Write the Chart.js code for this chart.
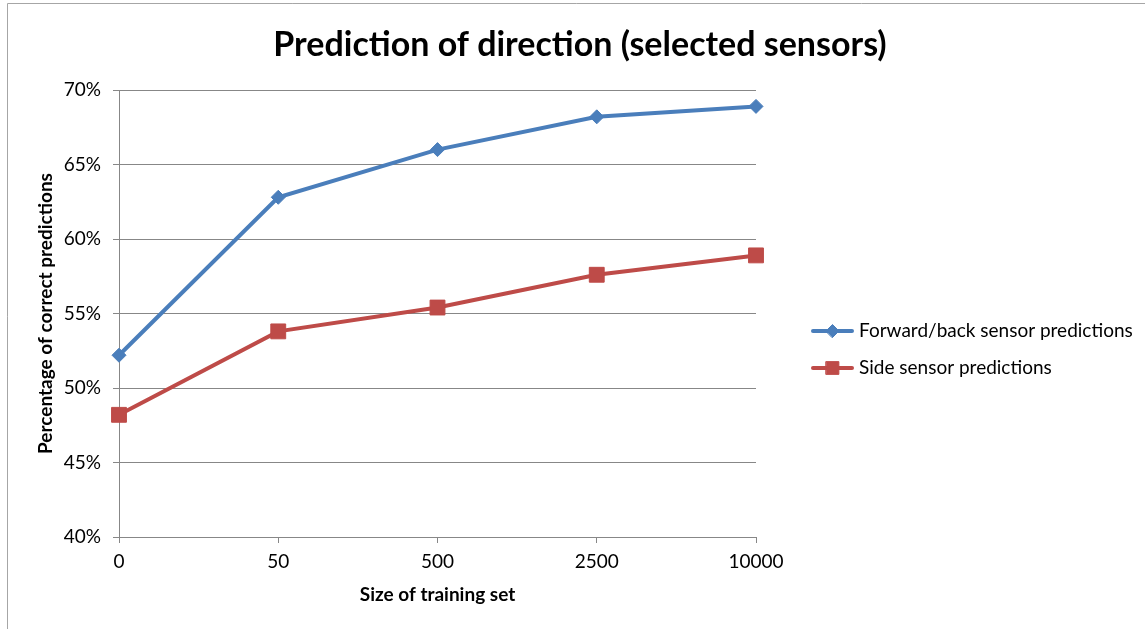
<!DOCTYPE html>
<html>
<head>
<meta charset="utf-8">
<script src="https://cdn.jsdelivr.net/npm/chart.js@4.4.1/dist/chart.umd.min.js"></script>
<style>
  html, body { margin: 0; padding: 0; background: #ffffff; }
  #wrap { width: 1145px; height: 629px; position: relative; }
</style>
</head>
<body>
<div id="wrap"><canvas id="c" width="1145" height="629"></canvas></div>
<script>
// Training-set sizes and the share of correct direction predictions (%)
const trainingSizes = ['0', '50', '500', '2500', '10000'];
const forwardBack = [52.2, 62.8, 66.0, 68.2, 68.9];
const sideSensor = [48.2, 53.8, 55.4, 57.6, 58.9];
const yMin = 40, yMax = 70, yStep = 5;

const FONT = 'Lato, "Open Sans", sans-serif';
const GRID = '#878787';
const BLUE = '#4a7ebb';
const RED = '#be4b48';

// Outer frame around the whole chart
const framePlugin = {
  id: 'frame',
  beforeDraw(chart) {
    const ctx = chart.ctx;
    ctx.save();
    ctx.fillStyle = '#ffffff';
    ctx.fillRect(0, 0, chart.width, chart.height);
    ctx.strokeStyle = '#a6a6a6';
    ctx.lineWidth = 1;
    ctx.beginPath();
    ctx.moveTo(7.5, chart.height + 2);
    ctx.lineTo(7.5, 3.5);
    ctx.lineTo(chart.width + 2, 3.5);
    ctx.stroke();
    ctx.restore();
  }
};

// Legend with a short line segment and the series marker
const lineLegend = {
  id: 'lineLegend',
  afterDraw(chart) {
    const ctx = chart.ctx;
    const x0 = 813, len = 39, rows = [331, 368];
    ctx.save();
    chart.data.datasets.forEach((ds, i) => {
      const y = rows[i];
      ctx.strokeStyle = ds.borderColor;
      ctx.lineWidth = 4;
      ctx.lineCap = 'round';
      ctx.beginPath();
      ctx.moveTo(x0, y);
      ctx.lineTo(x0 + len, y);
      ctx.stroke();
      ctx.fillStyle = ds.pointBackgroundColor;
      ctx.strokeStyle = ds.pointBorderColor;
      ctx.lineWidth = 1;
      Chart.helpers.drawPoint(ctx, {
        pointStyle: ds.pointStyle,
        radius: ds.pointStyle === 'rect' ? 9 : 6.5,
        rotation: 0,
        borderWidth: 1
      }, x0 + len / 2, y);
      ctx.fillStyle = '#000000';
      ctx.font = '19px ' + FONT;
      ctx.textAlign = 'left';
      ctx.textBaseline = 'middle';
      ctx.fillText(ds.label, x0 + len + 7, y);
    });
    ctx.restore();
  }
};

new Chart(document.getElementById('c'), {
  type: 'line',
  data: {
    labels: trainingSizes,
    datasets: [
      {
        label: 'Forward/back sensor predictions',
        data: forwardBack,
        borderColor: BLUE,
        backgroundColor: BLUE,
        pointBackgroundColor: BLUE,
        pointBorderColor: BLUE,
        borderWidth: 4,
        pointStyle: 'rectRot',
        pointRadius: 7,
        pointBorderWidth: 1,
        tension: 0
      },
      {
        label: 'Side sensor predictions',
        data: sideSensor,
        borderColor: RED,
        backgroundColor: RED,
        pointBackgroundColor: RED,
        pointBorderColor: RED,
        borderWidth: 4,
        pointStyle: 'rect',
        pointRadius: 10.5,
        pointBorderWidth: 1,
        tension: 0
      }
    ]
  },
  options: {
    responsive: false,
    animation: false,
    layout: { padding: { left: 15, right: 0, top: 0, bottom: 0 } },
    plugins: {
      legend: { display: false },
      tooltip: { enabled: false },
      title: {
        display: true,
        text: 'Prediction of direction (selected sensors)',
        color: '#000000',
        font: { family: FONT, size: 34, weight: 'bold', lineHeight: 1.2 },
        padding: { top: 24.6, bottom: 24.6 }
      }
    },
    scales: {
      x: {
        type: 'category',
        offset: false,
        grid: { display: true, drawOnChartArea: false, drawTicks: true, tickLength: 6, color: GRID },
        border: { display: true, color: GRID, width: 1 },
        ticks: { color: '#000000', font: { family: FONT, size: 19 }, padding: 7, maxRotation: 0 },
        title: {
          display: true,
          text: 'Size of training set',
          color: '#000000',
          font: { family: FONT, size: 19, weight: 'bold', lineHeight: 1.2 },
          padding: { top: 0, bottom: 22.6 }
        },
        afterFit(s) { s.height = 92; }
      },
      y: {
        min: yMin,
        max: yMax,
        grid: { color: GRID, lineWidth: 1, drawTicks: true, tickLength: 6 },
        border: { display: true, color: GRID, width: 1 },
        ticks: {
          stepSize: yStep,
          color: '#000000',
          font: { family: FONT, size: 19 },
          padding: 12,
          callback: v => v + '%'
        },
        title: {
          display: true,
          text: 'Percentage of correct predictions',
          color: '#000000',
          font: { family: FONT, size: 19, weight: 'bold', lineHeight: 1.2 },
          padding: { top: 19.6, bottom: 0 }
        },
        afterFit(s) { s.width = 104; }
      },
      legendSpace: {
        type: 'linear',
        axis: 'y',
        position: 'right',
        display: true,
        grid: { display: false, drawTicks: false },
        border: { display: false },
        ticks: { display: false },
        afterFit(s) { s.width = 389; }
      }
    }
  },
  plugins: [framePlugin, lineLegend]
});
</script>
</body>
</html>
